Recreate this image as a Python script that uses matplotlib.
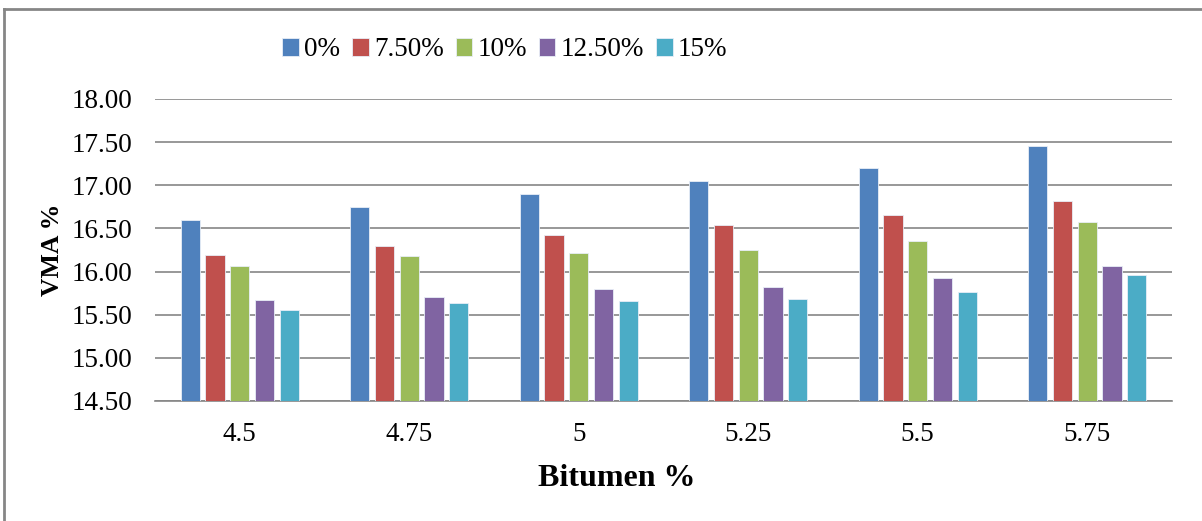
import numpy as np
import matplotlib.pyplot as plt

plt.rcParams['font.family'] = ['Liberation Serif', 'DejaVu Serif']

bitumen = ['4.5', '4.75', '5', '5.25', '5.5', '5.75']
series = ['0%', '7.50%', '10%', '12.50%', '15%']
vma_0 = [16.60, 16.75, 16.90, 17.05, 17.20, 17.45]
vma_75 = [16.19, 16.30, 16.42, 16.54, 16.66, 16.82]
vma_10 = [16.07, 16.18, 16.21, 16.25, 16.36, 16.58]
vma_125 = [15.67, 15.70, 15.80, 15.82, 15.92, 16.06]
vma_15 = [15.56, 15.64, 15.66, 15.68, 15.76, 15.96]
colors = ['#4F81BD', '#C0504D', '#9BBB59', '#8064A2', '#4BACC6']

fig = plt.figure(figsize=(12.02, 5.21), dpi=100)
ax = fig.add_axes([155/1202, 1-401/521, (1172-155)/1202, (401-99)/521])

x = np.arange(len(bitumen))
step = 0.146
for i, (vals, name) in enumerate(zip([vma_0, vma_75, vma_10, vma_125, vma_15], series)):
    ax.bar(x + (i - 2) * step, np.array(vals) - 14.5, bottom=14.5, width=0.114,
           color=colors[i], edgecolor='#e8eef7', linewidth=0.6, label=name, zorder=3)

ax.set_ylim(14.5, 18.0)
ax.set_xlim(-0.5, len(bitumen) - 0.5)
ax.set_yticks(np.arange(14.5, 18.01, 0.5))
ax.set_yticklabels(['%.2f' % v for v in np.arange(14.5, 18.01, 0.5)])
ax.set_xticks(x)
ax.set_xticklabels(bitumen)
ax.tick_params(axis='both', length=0, labelsize=19.5)
ax.tick_params(axis='y', pad=16)
ax.tick_params(axis='x', pad=15)
ax.grid(axis='y', color='#868686', linewidth=1.2, zorder=0)
for s in ['top', 'right', 'left']:
    ax.spines[s].set_visible(False)
ax.spines['bottom'].set_color('#868686')
ax.spines['bottom'].set_linewidth(1.2)

ax.set_ylabel('VMA %', fontsize=18.5, fontweight='bold', labelpad=6)
fig.text(617/1202, 1-478/521, 'Bitumen %', fontsize=23, fontweight='bold',
         ha='center', va='center')

fig.legend(loc='center', bbox_to_anchor=(505/1202, 1-50/521), ncol=5, frameon=False,
           fontsize=19.5, handlelength=0.6, handleheight=0.6, handletextpad=0.2,
           columnspacing=0.45)

# outer chart border (top and left edges)
fig.add_artist(plt.Line2D([4/1202, 4/1202], [0, 1-9/521], color='#868686', lw=2,
                          transform=fig.transFigure))
fig.add_artist(plt.Line2D([4/1202, 1], [1-9/521, 1-9/521], color='#868686', lw=2,
                          transform=fig.transFigure))

fig.savefig('out.png', dpi=100)
